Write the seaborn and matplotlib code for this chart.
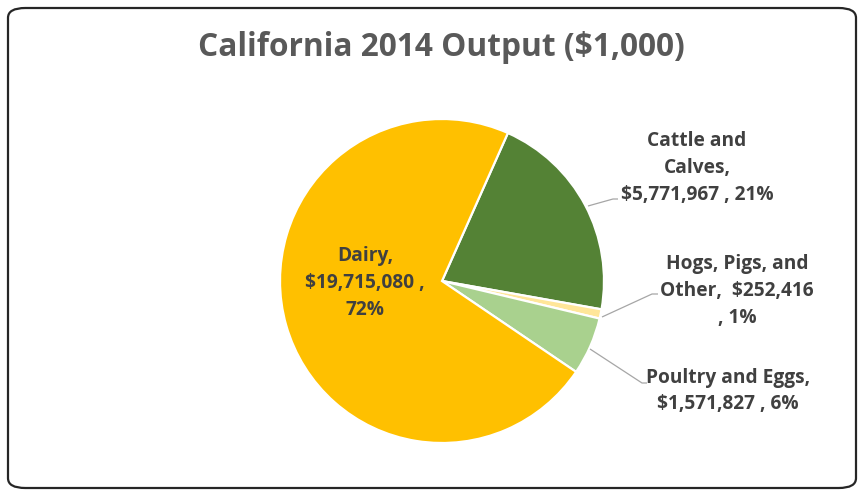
import matplotlib
matplotlib.use("Agg")
import matplotlib.pyplot as plt
from matplotlib.patches import FancyBboxPatch
import seaborn as sns

# Output by commodity, $1,000
categories = ["Cattle and Calves", "Hogs, Pigs, and Other", "Poultry and Eggs", "Dairy"]
values = [5771967, 252416, 1571827, 19715080]
colors = ["#548235", "#FFE699", "#A9D18E", "#FFC000"]
title = "California 2014 Output ($1,000)"

total = sum(values)
pcts = [round(v / total * 100) for v in values]
money = [f"${v:,}" for v in values]

# label text, wrapped like the original
label_texts = [
    f"Cattle and\nCalves,\n{money[0]} , {pcts[0]}%",
    f"Hogs, Pigs, and\nOther,  {money[1]}\n, {pcts[1]}%",
    f"Poultry and Eggs,\n{money[2]} , {pcts[2]}%",
    f"Dairy,\n{money[3]} ,\n{pcts[3]}%",
]

sns.set_theme(style="white")
plt.rcParams["font.family"] = ["Open Sans", "DejaVu Sans"]

W, H = 865, 491
fig = plt.figure(figsize=(W / 100, H / 100), dpi=100)
ax = fig.add_axes([0, 0, 1, 1])

cx, cy, r = 442, H - 281, 162
wedges, _ = ax.pie(values, colors=colors, startangle=66, counterclock=False,
                   center=(cx, cy), radius=r,
                   wedgeprops=dict(edgecolor="white", linewidth=1.6))
ax.set_xlim(0, W)
ax.set_ylim(0, H)
ax.set_aspect("equal")
ax.axis("off")

txt_kw = dict(fontsize=13.8, fontweight="bold", color="#404040",
              ha="center", va="center", linespacing=1.45)

# outside labels with leader lines (pixel coords, y from top)
outside = [
    (0, (697, 168), [(588, 206), (613, 199), (618, 199)]),
    (1, (737, 291), [(602, 317), (652, 294), (658, 294)]),
    (2, (728, 391), [(590, 349), (642, 383), (647, 383)]),
]
for i, (tx, ty), pts in outside:
    ax.plot([p[0] for p in pts], [H - p[1] for p in pts],
            color="#A6A6A6", lw=0.9, solid_capstyle="butt")
    ax.text(tx, H - ty, label_texts[i], **txt_kw)

ax.text(365, H - 283, label_texts[3], **txt_kw)

ax.text(441, H - 47, title, fontsize=22.8, fontweight="bold",
        color="#595959", ha="center", va="center")

border = FancyBboxPatch((8 / W, 3 / H), (W - 17) / W, (H - 11) / H,
                        boxstyle="round,pad=0,rounding_size=0.02",
                        transform=fig.transFigure, fill=False,
                        edgecolor="#262626", linewidth=1.6)
fig.patches.append(border)

fig.savefig("out.png", dpi=100, facecolor="white")
